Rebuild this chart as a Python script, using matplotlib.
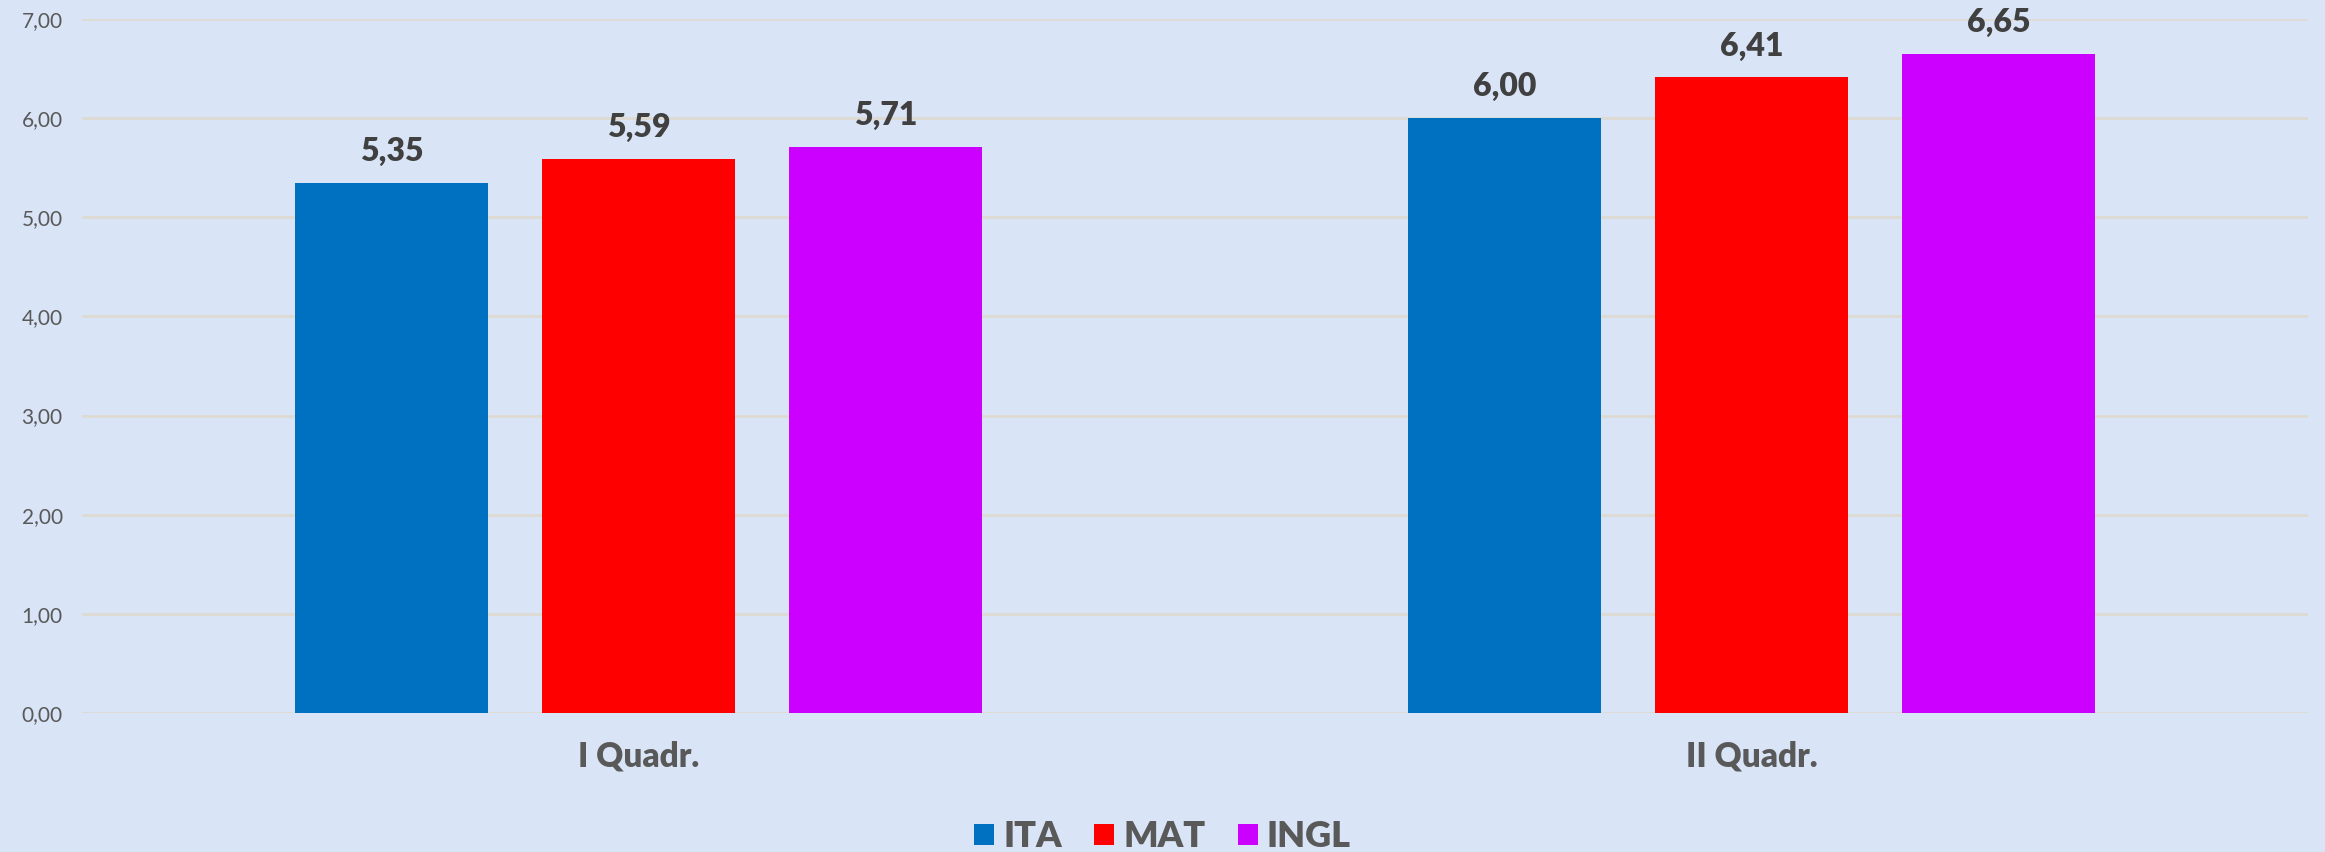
import numpy as np
import matplotlib
matplotlib.use('Agg')
import matplotlib.pyplot as plt

######################################
# dati
######################################
quadrimestri = ['I Quadr.', 'II Quadr.']
materie = ['ITA', 'MAT', 'INGL']
ita = [5.35, 6.00]
mat = [5.59, 6.41]
ingl = [5.71, 6.65]
colori = ['#0070C0', '#FF0000', '#CC00FF']
yticks = [0, 1, 2, 3, 4, 5, 6, 7]

plt.rcParams['font.family'] = ['Lato', 'DejaVu Sans']

fig = plt.figure(figsize=(23.25, 8.52), dpi=100)
fig.patch.set_facecolor('#D9E4F6')
ax = fig.add_axes([0.0353, 0.1632, 0.9574, 0.8145])
ax.set_facecolor('none')

x = np.arange(len(quadrimestri))
w = 0.174
step = 0.222
for i, (serie, nome) in enumerate(zip([ita, mat, ingl], materie)):
    barre = ax.bar(x + (i - 1) * step, serie, w, color=colori[i], label=nome, zorder=3)
    for b, v in zip(barre, serie):
        ax.annotate(f'{v:.2f}'.replace('.', ','), (b.get_x() + b.get_width() / 2, v),
                    xytext=(0, 12), textcoords='offset points', ha='center', va='bottom',
                    fontsize=23, fontweight='heavy', color='#404040')

ax.set_xlim(-0.5, 1.5)
ax.set_ylim(0, 7)
ax.set_yticks(yticks)
ax.set_yticklabels([f'{t:.2f}'.replace('.', ',') for t in yticks], fontsize=15, color='#595959')
ax.set_xticks(x)
ax.set_xticklabels(quadrimestri, fontsize=24, fontweight='heavy', color='#595959')
ax.tick_params(axis='x', length=0, pad=20)
ax.tick_params(axis='y', length=0, pad=14)
ax.grid(axis='y', color='#DEDAD2', linewidth=2, zorder=0)
for s in ax.spines.values():
    s.set_visible(False)

leg = fig.legend(loc='center', bbox_to_anchor=(0.5, 0.018), ncol=3, frameon=False,
                 handlelength=0.55, handleheight=0.55, handletextpad=0.25, columnspacing=0.9,
                 prop={'size': 26, 'weight': 'heavy'})
for t in leg.get_texts():
    t.set_color('#595959')

plt.savefig('out.png', dpi=100, facecolor=fig.get_facecolor())
